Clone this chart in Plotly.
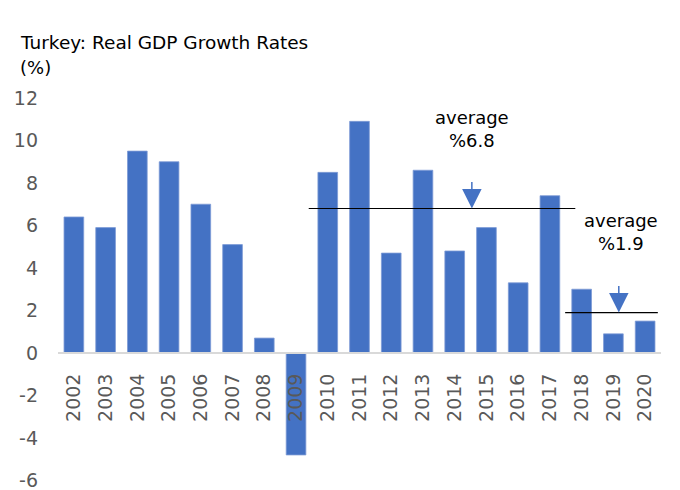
import plotly.graph_objects as go

# Turkey real GDP growth, % per year
years = [str(y) for y in range(2002, 2021)]
growth = [6.4, 5.9, 9.5, 9.0, 7.0, 5.1, 0.7, -4.8, 8.5, 10.9,
          4.7, 8.6, 4.8, 5.9, 3.3, 7.4, 3.0, 0.9, 1.5]

# period averages
avg_2010_2017 = 6.8
avg_2018_2020 = 1.9

y_ticks = [-6, -4, -2, 0, 2, 4, 6, 8, 10, 12]
y_tick_text = [str(v) for v in y_ticks]   # plain hyphen for negatives

BAR_BLUE = "#4472c4"
FONT = "DejaVu Sans"

Y_MIN, Y_MAX = -6.45, 12

fig = go.Figure()
fig.add_trace(go.Bar(
    x=years, y=growth,
    marker=dict(color=BAR_BLUE, line=dict(color="#7d9bd6", width=0.8)),
    hoverinfo="x+y",
))

i2010 = years.index("2010")
i2017 = years.index("2017")
i2018 = years.index("2018")
i2020 = years.index("2020")

fig.add_shape(type="line", xref="x", yref="y",
              x0=i2010 - 0.6, x1=i2017 + 0.8,
              y0=avg_2010_2017, y1=avg_2010_2017,
              line=dict(color="black", width=1.2))
fig.add_shape(type="line", xref="x", yref="y",
              x0=i2018 - 0.52, x1=i2020 + 0.4,
              y0=avg_2018_2020, y1=avg_2018_2020,
              line=dict(color="black", width=1.2))

# arrows pointing down onto the average lines
for xi, yv in [(12.54, avg_2010_2017), (17.17, avg_2018_2020)]:
    fig.add_annotation(x=xi, y=yv, xref="x", yref="y",
                       ax=0, ay=-28, showarrow=True, text="",
                       arrowhead=2, arrowsize=2.6, arrowwidth=1.5,
                       arrowcolor=BAR_BLUE, standoff=0)

fig.add_annotation(x=12.55, y=10.53, xref="x", yref="y",
                   text=f"average<br>%{avg_2010_2017}", showarrow=False,
                   font=dict(family=FONT, size=18, color="black"),
                   xanchor="center", yanchor="middle", align="center")
fig.add_annotation(x=17.25, y=5.7, xref="x", yref="y",
                   text=f"average<br>%{avg_2018_2020}", showarrow=False,
                   font=dict(family=FONT, size=18, color="black"),
                   xanchor="center", yanchor="middle", align="center")

W, H = 680, 490
ML, MR, MT, MB = 58, 19, 98, 0

def px_to_paper(px, py):
    return (px - ML) / (W - ML - MR), 1 - (py - MT) / (H - MT - MB)

tx, ty = px_to_paper(18, 42)
fig.add_annotation(x=tx, y=ty, xref="paper", yref="paper",
                   text="Turkey: Real GDP Growth Rates", showarrow=False,
                   font=dict(family=FONT, size=18.5, color="black"),
                   xanchor="left", yanchor="middle")
tx, ty = px_to_paper(18, 67)
fig.add_annotation(x=tx, y=ty, xref="paper", yref="paper",
                   text="(%)", showarrow=False,
                   font=dict(family=FONT, size=18, color="black"),
                   xanchor="left", yanchor="middle")

fig.update_layout(
    width=W, height=H,
    margin=dict(l=ML, r=MR, t=MT, b=MB),
    plot_bgcolor="white", paper_bgcolor="white",
    bargap=0.38,
    showlegend=False,
    font=dict(family=FONT),
)
fig.update_xaxes(
    type="category",
    anchor="free", position=(0 - Y_MIN) / (Y_MAX - Y_MIN),
    showline=True, linecolor="#d9d9d9", linewidth=2,
    showgrid=False, zeroline=False, ticks="",
    tickangle=-90, ticklabelstandoff=12,
    tickfont=dict(family=FONT, size=19, color="#595959"),
    range=[-0.5, len(years) - 0.5],
)
fig.update_yaxes(
    range=[Y_MIN, Y_MAX], tickvals=y_ticks, ticktext=y_tick_text,
    showgrid=False, zeroline=False, showline=False, ticks="",
    ticklabelstandoff=19, ticklabeloverflow="allow",
    tickfont=dict(family=FONT, size=19, color="#595959"),
)

fig.write_html("out.html")
